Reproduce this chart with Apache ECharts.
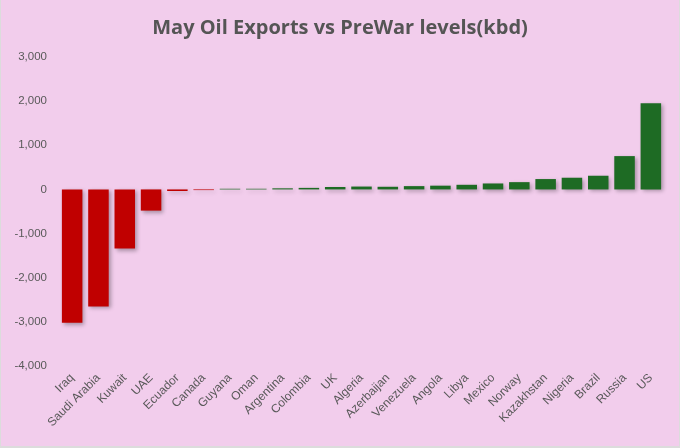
<!DOCTYPE html>
<html>
<head>
<meta charset="utf-8">
<script src="https://cdn.jsdelivr.net/npm/echarts@6/dist/echarts.min.js"></script>
<style>
  html, body { margin: 0; padding: 0; background: #dcdcdc; }
  #chart { width: 678px; height: 446px; margin: 0 1px; background: #f2cdec; }
</style>
</head>
<body>
<div id="chart"></div>
<script>
// countries, sorted from biggest drop to biggest gain
const countries = ['Iraq', 'Saudi Arabia', 'Kuwait', 'UAE', 'Ecuador', 'Canada', 'Guyana', 'Oman',
  'Argentina', 'Colombia', 'UK', 'Algeria', 'Azerbaijan', 'Venezuela', 'Angola', 'Libya',
  'Mexico', 'Norway', 'Kazakhstan', 'Nigeria', 'Brazil', 'Russia', 'US'];
// change vs pre-war exports, kbd
const changes = [-3020, -2650, -1340, -480, -35, -15, 15, 15,
  25, 35, 55, 65, 60, 75, 85, 105,
  135, 165, 235, 265, 310, 755, 1950];

const yTicks = [-4000, -3000, -2000, -1000, 0, 1000, 2000, 3000];

var myChart = echarts.init(document.getElementById('chart'));

myChart.setOption({
  backgroundColor: '#f2cdec',
  animation: false,
  title: {
    text: 'May Oil Exports vs PreWar levels(kbd)',
    left: 'center',
    top: 13,
    textStyle: {
      fontFamily: 'Open Sans',
      fontSize: 20,
      fontWeight: 'bold',
      color: '#555555'
    }
  },
  grid: {
    left: 58,
    right: 15,
    top: 57,
    bottom: 80
  },
  xAxis: {
    type: 'category',
    data: countries,
    axisLine: { show: false },
    axisTick: { show: false },
    axisLabel: {
      rotate: 45,
      interval: 0,
      margin: 10,
      fontFamily: 'Liberation Sans',
      fontSize: 12,
      color: '#595959'
    }
  },
  yAxis: {
    type: 'value',
    min: yTicks[0],
    max: yTicks[yTicks.length - 1],
    interval: 1000,
    splitLine: { show: false },
    axisLine: { show: false },
    axisTick: { show: false },
    axisLabel: {
      margin: 12,
      fontFamily: 'Liberation Sans',
      fontSize: 11.5,
      color: '#595959',
      formatter: v => v.toLocaleString('en-US')
    }
  },
  series: [
    {
      name: 'change',
      type: 'bar',
      barCategoryGap: '22%',
      data: changes.map(v => ({
        value: v,
        itemStyle: { color: v < 0 ? '#c00000' : '#1e6b24' }
      })),
      itemStyle: {
        shadowBlur: 4,
        shadowOffsetX: 2,
        shadowOffsetY: 2,
        shadowColor: 'rgba(0, 0, 0, 0.3)'
      }
    }
  ]
});
</script>
</body>
</html>
